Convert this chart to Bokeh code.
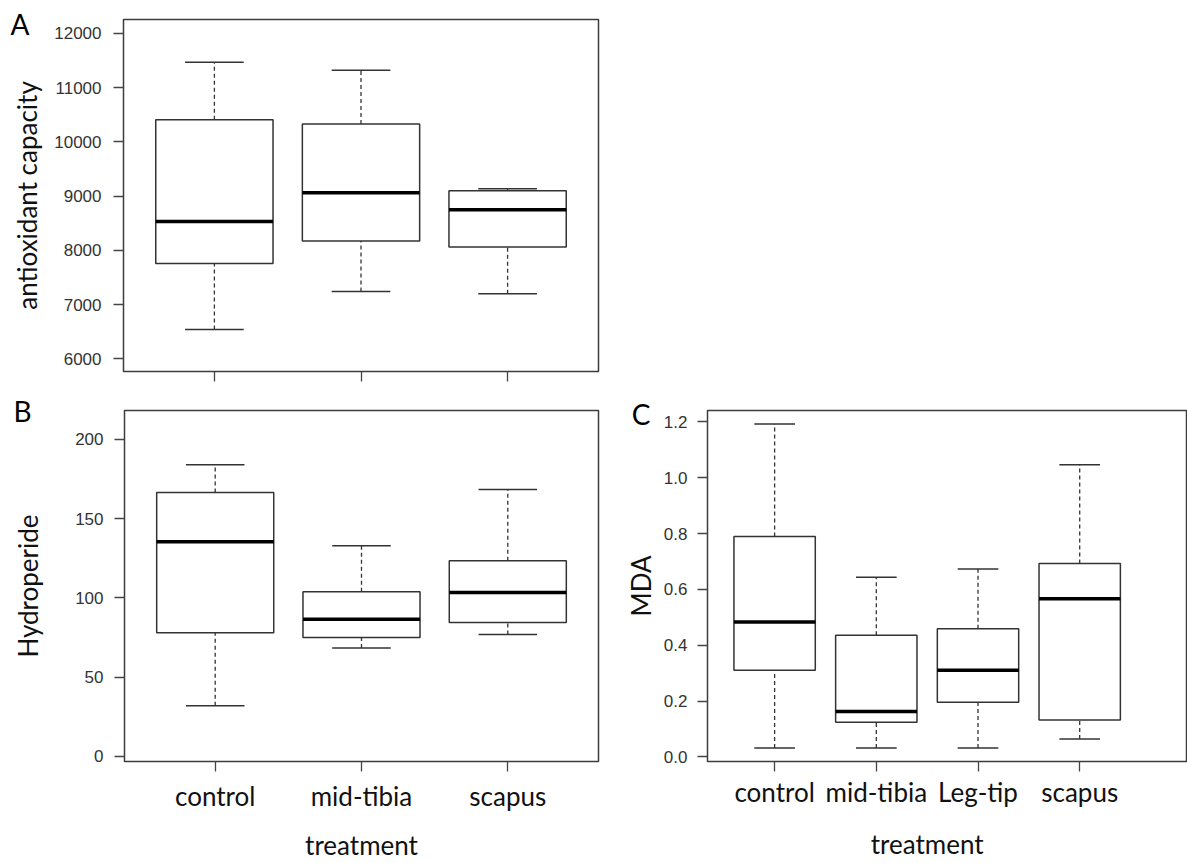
from bokeh.plotting import figure
from bokeh.models import ColumnDataSource, FixedTicker, Range1d, LinearAxis
from bokeh.transform import dodge
from bokeh.layouts import column, row
from bokeh.embed import file_html
from bokeh.resources import INLINE

# ---------------- data ----------------
cats_A = ["control", "mid-tibia", "scapus"]
A_min = [6540, 7240, 7200]
A_q1 = [7755, 8170, 8060]
A_med = [8530, 9060, 8750]
A_q3 = [10410, 10330, 9100]
A_max = [11470, 11320, 9135]
A_ticks = [6000, 7000, 8000, 9000, 10000, 11000, 12000]

cats_B = ["control", "mid-tibia", "scapus"]
B_min = [32, 68.5, 77]
B_q1 = [78, 75, 84.5]
B_med = [135.5, 86.5, 103.5]
B_q3 = [166.5, 104, 123.5]
B_max = [184, 133, 168.5]
B_ticks = [0, 50, 100, 150, 200]

cats_C = ["control", "mid-tibia", "Leg-tip", "scapus"]
C_min = [0.032, 0.032, 0.032, 0.064]
C_q1 = [0.31, 0.124, 0.196, 0.132]
C_med = [0.483, 0.163, 0.31, 0.566]
C_q3 = [0.789, 0.436, 0.459, 0.693]
C_max = [1.192, 0.643, 0.673, 1.046]
C_ticks = [0, 0.2, 0.4, 0.6, 0.8, 1, 1.2]
C_tick_labels = ["0.0", "0.2", "0.4", "0.6", "0.8", "1.0", "1.2"]

LABEL_FONT = "Lato"
NUM_FONT = "Liberation Sans"
BOX_COLOR = "#333333"


def make_panel(cats, mn, q1, med, q3, mx, yticks, ytick_labels, xr, yr,
               width, height, borders, ylabel, ylabel_standoff,
               show_xlabels, xlabel_standoff, ytick_standoff):
    p = figure(width=width, height=height,
               x_range=Range1d(*xr), y_range=Range1d(*yr),
               output_backend="svg", toolbar_location=None,
               min_border_left=borders[0], min_border_right=borders[1],
               min_border_top=borders[2], min_border_bottom=borders[3])
    p.xgrid.visible = False
    p.ygrid.visible = False
    p.outline_line_color = "#3c3c3c"
    p.outline_line_width = 1.5
    p.background_fill_color = "white"
    p.border_fill_color = "white"

    xs = list(range(1, len(cats) + 1))
    src = ColumnDataSource(dict(x=xs, mn=mn, q1=q1, med=med, q3=q3, mx=mx))

    p.segment(x0="x", y0="q3", x1="x", y1="mx", source=src,
              line_color=BOX_COLOR, line_width=1.3, line_dash="4 3")
    p.segment(x0="x", y0="mn", x1="x", y1="q1", source=src,
              line_color=BOX_COLOR, line_width=1.3, line_dash="4 3")
    p.segment(x0=dodge("x", -0.2), y0="mx", x1=dodge("x", 0.2), y1="mx",
              source=src, line_color=BOX_COLOR, line_width=1.5)
    p.segment(x0=dodge("x", -0.2), y0="mn", x1=dodge("x", 0.2), y1="mn",
              source=src, line_color=BOX_COLOR, line_width=1.5)
    p.vbar(x="x", width=0.8, bottom="q1", top="q3", source=src,
           fill_color="white", line_color=BOX_COLOR, line_width=1.5)
    p.segment(x0=dodge("x", -0.4), y0="med", x1=dodge("x", 0.4), y1="med",
              source=src, line_color="black", line_width=3.5)

    for ax in (p.xaxis[0], p.yaxis[0]):
        ax.axis_line_color = None
        ax.major_tick_in = 0
        ax.major_tick_out = 10
        ax.minor_tick_line_color = None
        ax.major_tick_line_color = "#444444"
        ax.major_tick_line_width = 1.3

    xa = p.xaxis[0]
    xa.ticker = FixedTicker(ticks=xs)
    xa.major_label_overrides = {x: c for x, c in zip(xs, cats)}
    if show_xlabels:
        xa.major_label_text_font = LABEL_FONT
        xa.major_label_text_font_size = "26px"
        xa.major_label_text_color = "#111111"
        xa.major_label_standoff = xlabel_standoff
    else:
        xa.major_label_text_font_size = "1px"
        xa.major_label_text_alpha = 0

    ya = p.yaxis[0]
    ya.ticker = FixedTicker(ticks=yticks)
    if ytick_labels is not None:
        ya.major_label_overrides = {t: l for t, l in zip(yticks, ytick_labels)}
    ya.major_label_text_font = NUM_FONT
    ya.major_label_text_font_size = "17px"
    ya.major_label_text_color = "#333333"
    ya.major_label_standoff = ytick_standoff
    ya.axis_label = ylabel
    ya.axis_label_text_font = LABEL_FONT
    ya.axis_label_text_font_size = "26px"
    ya.axis_label_text_font_style = "normal"
    ya.axis_label_text_color = "#111111"
    ya.axis_label_standoff = ylabel_standoff
    return p


def panel_letter(p, letter, y_at, standoff):
    # the panel letter is drawn as the single label of an extra, invisible left axis
    ax = LinearAxis(ticker=FixedTicker(ticks=[y_at]),
                    major_label_overrides={y_at: letter},
                    axis_line_color=None, major_tick_line_color=None,
                    minor_tick_line_color=None, major_tick_out=0,
                    major_tick_in=0, major_label_standoff=standoff,
                    major_label_text_font=LABEL_FONT,
                    major_label_text_font_size="28px",
                    major_label_text_color="black")
    p.add_layout(ax, "left")


# ---------------- panel A ----------------
pA = make_panel(cats_A, A_min, A_q1, A_med, A_q3, A_max, A_ticks, None,
                (0.38, 3.62), (5764, 12258), 600, 390, (123, 2, 19, 19),
                "antioxidant capacity", 8, False, 0, 12)
panel_letter(pA, "A", 12170, -21)

# ---------------- panel B ----------------
pB = make_panel(cats_B, B_min, B_q1, B_med, B_q3, B_max, B_ticks, None,
                (0.38, 3.62), (-3.2, 218.3), 600, 473, (124, 2, 20, 102),
                "Hydroperide", 28, True, 8, 11)
xb = pB.xaxis[0]
xb.axis_label = "treatment"
xb.axis_label_text_font = LABEL_FONT
xb.axis_label_text_font_size = "26px"
xb.axis_label_text_font_style = "normal"
xb.axis_label_text_color = "#111111"
xb.axis_label_standoff = 14
panel_letter(pB, "B", 218, -22)

# ---------------- panel C ----------------
pC = make_panel(cats_C, C_min, C_q1, C_med, C_q3, C_max, C_ticks, C_tick_labels,
                (0.34, 5.06), (-0.0164, 1.2406), 587, 473, (107, 0, 19, 101),
                "MDA", 4, True, 4, 10)
xs_C = list(range(1, len(cats_C) + 1))
centre_C = sum(xs_C) / len(xs_C)
title_axis = LinearAxis(ticker=FixedTicker(ticks=[centre_C]),
                        major_label_overrides={centre_C: "treatment"},
                        axis_line_color=None, major_tick_line_color=None,
                        minor_tick_line_color=None, major_tick_out=0,
                        major_tick_in=0, major_label_standoff=17,
                        major_label_text_font=LABEL_FONT,
                        major_label_text_font_size="26px",
                        major_label_text_color="#111111")
pC.add_layout(title_axis, "below")
panel_letter(pC, "C", 1.2274, -29)

layout = column(pA, row(pB, pC))
open("out.html", "w").write(file_html(layout, INLINE))
